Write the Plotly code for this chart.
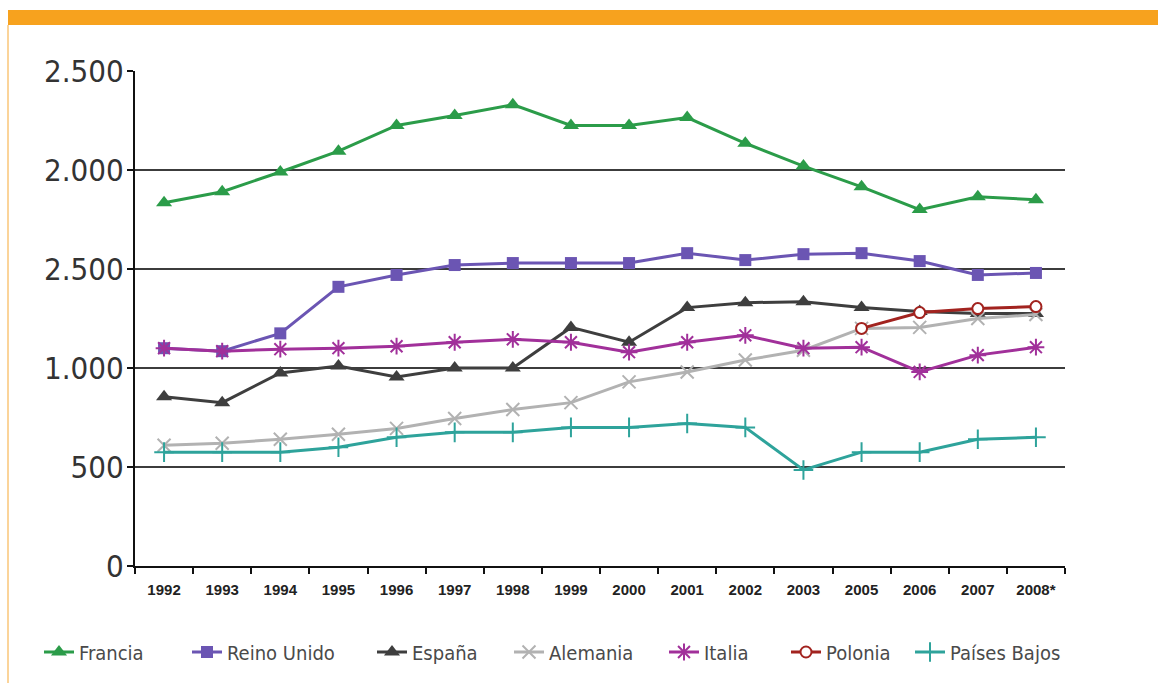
import plotly.graph_objects as go

# Categories (years) on the horizontal axis
years = ["1992", "1993", "1994", "1995", "1996", "1997", "1998", "1999",
         "2000", "2001", "2002", "2003", "2005", "2006", "2007", "2008*"]

# Series values
francia = [1835, 1890, 1990, 2095, 2225, 2275, 2330, 2225, 2225, 2265, 2135, 2020, 1915, 1800, 1865, 1850]
reino_unido = [1100, 1085, 1175, 1410, 1470, 1520, 1530, 1530, 1530, 1580, 1545, 1575, 1580, 1540, 1470, 1480]
espana = [855, 825, 975, 1010, 955, 1000, 1000, 1205, 1130, 1305, 1330, 1335, 1305, 1285, 1275, 1275]
alemania = [610, 620, 640, 665, 695, 745, 790, 825, 930, 980, 1040, 1090, 1200, 1205, 1250, 1270]
italia = [1100, 1085, 1095, 1100, 1110, 1130, 1145, 1130, 1080, 1130, 1165, 1100, 1105, 980, 1065, 1105]
polonia = [None] * 12 + [1200, 1280, 1300, 1310]
paises_bajos = [575, 575, 575, 600, 650, 675, 675, 700, 700, 720, 700, 485, 575, 575, 640, 650]

# Y tick labels
y_tickvals = [0, 500, 1000, 1500, 2000, 2500]
y_ticktext = ["0", "500", "1.000", "2.500", "2.000", "2.500"]

W, H = 1158, 683
L, R, T, B = 135, 93, 71, 117

series = [
    ("Francia", francia, "#2b9c49", dict(symbol="triangle-up", size=14), 80),
    ("Reino Unido", reino_unido, "#6b55b3", dict(symbol="square", size=12), 228),
    ("España", espana, "#3e3e3e", dict(symbol="triangle-up", size=14), 413),
    ("Alemania", alemania, "#b2b2b2", dict(symbol="x-thin-open", size=13, line=dict(width=2, color="#b2b2b2")), 550),
    ("Italia", italia, "#a1309a", dict(symbol="asterisk-open", size=14, line=dict(width=2, color="#a1309a")), 705),
    ("Polonia", polonia, "#a2231f", dict(symbol="circle", size=11, color="white", line=dict(width=2, color="#a2231f")), 827),
    ("Países Bajos", paises_bajos, "#2ea39b", dict(symbol="cross-thin-open", size=14, line=dict(width=2, color="#2ea39b")), 951),
]

fig = go.Figure()
layout_legends = {}
for i, (name, vals, color, marker, text_x) in enumerate(series):
    lg = "legend" if i == 0 else f"legend{i + 1}"
    m = dict(color=color)
    m.update(marker)
    fig.add_trace(go.Scatter(
        x=years, y=vals, name=name, mode="lines+markers",
        line=dict(color=color, width=3), marker=m,
        legend=lg, connectgaps=False, showlegend=True,
    ))
    layout_legends[lg] = dict(
        xref="container", yref="container",
        x=(text_x - 41) / W, xanchor="left",
        y=1 - 652 / H, yanchor="middle",
        bgcolor="rgba(0,0,0,0)", borderwidth=0,
        font=dict(family="DejaVu Sans Condensed, DejaVu Sans, sans-serif",
                  size=20, color="#4a4a4a"),
        orientation="h", itemwidth=30,
    )

# Orange header band and thin left border
px_x = lambda p: (p - L) / (W - L - R)
px_y = lambda p: (H - B - p) / (H - T - B)
shapes = [
    dict(type="rect", xref="paper", yref="paper",
         x0=px_x(8), x1=px_x(1158), y0=px_y(25), y1=px_y(10),
         fillcolor="#f7a21e", line=dict(width=0), layer="above"),
    dict(type="line", xref="paper", yref="paper",
         x0=px_x(8), x1=px_x(8), y0=px_y(25), y1=px_y(683),
         line=dict(color="#fbd49a", width=2), layer="above"),
]

fig.update_layout(
    width=W, height=H,
    margin=dict(l=L, r=R, t=T, b=B, pad=0),
    paper_bgcolor="white", plot_bgcolor="white",
    showlegend=True,
    shapes=shapes,
    **layout_legends,
)

fig.update_xaxes(
    type="category", categoryorder="array", categoryarray=years,
    range=[-0.5, len(years) - 0.5],
    showline=True, linecolor="#111", linewidth=2,
    showgrid=False, zeroline=False,
    ticks="outside", tickson="boundaries", ticklen=6, tickwidth=2, tickcolor="#111",
    tickfont=dict(family="Liberation Sans, Arial, sans-serif", size=15, color="#222", weight="bold"),
    ticklabelstandoff=9,
)
fig.update_yaxes(
    range=[0, 2500], tickvals=y_tickvals, ticktext=y_ticktext,
    showline=True, linecolor="#111", linewidth=2,
    showgrid=True, gridcolor="#3c3c3c", gridwidth=2,
    zeroline=False,
    ticks="outside", ticklen=6, tickwidth=2, tickcolor="#111",
    tickfont=dict(family="DejaVu Sans Condensed, DejaVu Sans, sans-serif", size=31, color="#333"),
    ticklabelstandoff=-3,
)

fig.write_html("out.html")
